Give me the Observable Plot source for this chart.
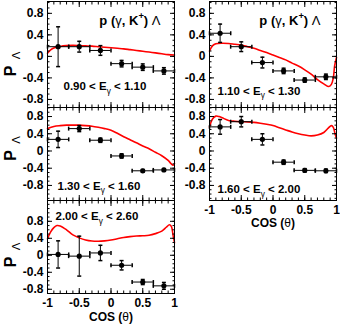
<!DOCTYPE html>
<html><head><meta charset="utf-8">
<script src="https://cdn.jsdelivr.net/npm/d3@7"></script>
<script src="https://cdn.jsdelivr.net/npm/@observablehq/plot@0.6"></script>
<style>
html,body{margin:0;padding:0;background:#fff;}
#chart{position:relative;width:340px;height:325px;overflow:hidden;background:#fff;}
#chart svg{position:absolute;left:0;top:0;}
</style></head><body><div id="chart"></div>
<script>
// ---- data ----
const cosTheta     = [-0.833, -0.5, -0.167, 0.167, 0.5, 0.833];
const cosHalfWidth = [0.167, 0.167, 0.167, 0.167, 0.167, 0.167];
const energyLabels = ["0.90 < E_{γ} < 1.10", "1.10 < E_{γ} < 1.30", "1.30 < E_{γ} < 1.60", "1.60 < E_{γ} < 2.00", "2.00 < E_{γ} < 2.60"];
const reactionLabel = "p (γ, K^{+}) Λ";
const yAxisLabel = "P_{  Λ}";
const xAxisLabel = "COS (θ)";
const xTicks = [-1, -0.5, 0, 0.5, 1];
const yTicks = [-0.8, -0.4, 0, 0.4, 0.8];

const polE1 = [0.18, 0.18, 0.11, -0.135, -0.20, -0.27];
const errE1 = [0.37, 0.10, 0.09, 0.06, 0.06, 0.06];
const polE2 = [0.43, 0.18, -0.115, -0.27, -0.44, -0.38];
const errE2 = [0.17, 0.09, 0.10, 0.05, 0.04, 0.05];
const polE3 = [0.27, 0.52, 0.25, -0.115, -0.46, -0.44];
const errE3 = [0.19, 0.07, 0.05, 0.05, 0.03, 0.03];
const polE4 = [0.56, 0.68, 0.27, -0.26, -0.45, -0.46];
const errE4 = [0.17, 0.12, 0.13, 0.05, 0.04, 0.04];
const polE5 = [0.02, -0.02, 0.055, -0.235, -0.63, -0.72];
const errE5 = [0.32, 0.47, 0.18, 0.11, 0.06, 0.08];

const modelE1X = [-1, -0.95, -0.9, -0.8, -0.7, -0.6, -0.5, -0.4, -0.3, -0.2, -0.1, 0, 0.1, 0.2, 0.3, 0.4, 0.5, 0.6, 0.7, 0.8, 0.9, 1.0];
const modelE1Y = [0.06, 0.12, 0.155, 0.185, 0.2, 0.205, 0.2, 0.195, 0.19, 0.18, 0.17, 0.16, 0.15, 0.14, 0.125, 0.11, 0.095, 0.08, 0.065, 0.048, 0.033, 0.025];
const modelE2X = [-1, -0.95, -0.9, -0.8, -0.7, -0.6, -0.5, -0.4, -0.3, -0.2, -0.1, 0, 0.1, 0.2, 0.3, 0.4, 0.5, 0.6, 0.7, 0.8, 0.88, 0.92, 0.95, 0.97, 1.0];
const modelE2Y = [0.1, 0.2, 0.235, 0.245, 0.24, 0.225, 0.21, 0.18, 0.15, 0.11, 0.07, 0.025, -0.02, -0.065, -0.125, -0.18, -0.25, -0.33, -0.43, -0.51, -0.56, -0.52, -0.4, -0.18, -0.02];
const modelE3X = [-1, -0.9, -0.8, -0.7, -0.6, -0.5, -0.4, -0.3, -0.2, -0.1, 0, 0.1, 0.2, 0.3, 0.4, 0.5, 0.6, 0.7, 0.8, 0.9, 0.95, 0.98, 1.0];
const modelE3Y = [0.52, 0.57, 0.59, 0.6, 0.6, 0.6, 0.59, 0.575, 0.55, 0.52, 0.48, 0.41, 0.33, 0.26, 0.19, 0.115, 0.05, -0.03, -0.11, -0.22, -0.3, -0.33, -0.29];
const modelE4X = [-1, -0.95, -0.9, -0.85, -0.8, -0.7, -0.6, -0.5, -0.4, -0.3, -0.2, -0.1, 0, 0.1, 0.2, 0.3, 0.4, 0.5, 0.6, 0.7, 0.8, 0.87, 0.92, 0.95, 0.98, 1.0];
const modelE4Y = [0.56, 0.75, 0.81, 0.8, 0.77, 0.71, 0.69, 0.68, 0.675, 0.665, 0.645, 0.62, 0.59, 0.54, 0.49, 0.44, 0.4, 0.37, 0.35, 0.37, 0.43, 0.53, 0.59, 0.55, 0.38, 0.3];
const modelE5X = [-1, -0.95, -0.9, -0.85, -0.8, -0.7, -0.6, -0.5, -0.4, -0.3, -0.2, -0.1, 0, 0.1, 0.2, 0.3, 0.4, 0.5, 0.6, 0.7, 0.8, 0.87, 0.92, 0.95, 0.98, 1.0];
const modelE5Y = [0.39, 0.55, 0.65, 0.7, 0.69, 0.6, 0.48, 0.41, 0.36, 0.335, 0.33, 0.34, 0.36, 0.39, 0.42, 0.44, 0.455, 0.46, 0.47, 0.51, 0.57, 0.66, 0.72, 0.68, 0.45, 0.3];

// ---- layout ----
const W = 340, H = 325;
const panels = [
  {lbl: energyLabels[0], pol: polE1, err: errE1, mx: modelE1X, my: modelE1Y, box: [47, 174, 1, 107], ydom: [-0.95, 1.02], title: true, tdx: -14, xlab: false, ylab: -0.14, ea: "bottom-left", edx: 16, edy: -21},
  {lbl: energyLabels[1], pol: polE2, err: errE2, mx: modelE2X, my: modelE2Y, box: [209, 336, 1, 107], ydom: [-0.95, 1.02], title: true, tdx: -16, xlab: false, ylab: null, ea: "bottom-left", edx: 8, edy: -16.5},
  {lbl: energyLabels[2], pol: polE3, err: errE3, mx: modelE3X, my: modelE3Y, box: [47, 174, 107, 200], ydom: [-1.15, 1.01], title: false, xlab: false, ylab: 0.06, ea: "bottom-left", edx: 10, edy: -14.5},
  {lbl: energyLabels[3], pol: polE4, err: errE4, mx: modelE4X, my: modelE4Y, box: [209, 336, 107, 200], ydom: [-1.15, 1.01], title: false, xlab: true, xdy: 23, ylab: null, ea: "bottom-left", edx: 8, edy: -11},
  {lbl: energyLabels[4], pol: polE5, err: errE5, mx: modelE5X, my: modelE5Y, box: [47, 174, 200, 293], ydom: [-0.9, 1.29], title: false, xlab: true, xdy: 24, ylab: 0.01, ea: "top-left", edx: 8, edy: 16}
];

const capH = {draw(ctx) { ctx.moveTo(-2, 0); ctx.lineTo(2, 0); }};
const capV = {draw(ctx) { ctx.moveTo(0, -2); ctx.lineTo(0, 2); }};
const fmt = d => String(d);
const xMinor = d3.range(-10, 11).map(i => i / 10);

function makePanel(p) {
  const [l, r, t, b] = p.box;
  const pts = cosTheta.map((x, i) => ({x, y: p.pol[i], e: p.err[i], h: cosHalfWidth[i]}));
  const curve = p.mx.map((x, i) => ({x, y: p.my[i]}));
  const yMinor = d3.range(-13, 14).map(i => i / 10).filter(v => v >= p.ydom[0] && v <= p.ydom[1]);
  const marks = [
    Plot.line(curve, {x: "x", y: "y", stroke: "#ff0000", strokeWidth: 1.6, curve: "catmull-rom"}),
    Plot.ruleX(pts, {x: "x", y1: d => d.y - d.e, y2: d => d.y + d.e, stroke: "black", strokeWidth: 1}),
    Plot.ruleY(pts, {y: "y", x1: d => d.x - d.h, x2: d => d.x + d.h, stroke: "black", strokeWidth: 1}),
    Plot.dot(pts, {x: "x", y: d => d.y + d.e, symbol: capH, stroke: "black", fill: "none", r: 2}),
    Plot.dot(pts, {x: "x", y: d => d.y - d.e, symbol: capH, stroke: "black", fill: "none", r: 2}),
    Plot.dot(pts, {x: d => d.x - d.h, y: "y", symbol: capV, stroke: "black", fill: "none", r: 2}),
    Plot.dot(pts, {x: d => d.x + d.h, y: "y", symbol: capV, stroke: "black", fill: "none", r: 2}),
    Plot.dot(pts, {x: "x", y: "y", r: 2.6, fill: "black"}),
    Plot.frame({stroke: "black", strokeWidth: 1}),
    // inward ticks on all four sides
    Plot.axisX({ticks: xTicks, anchor: "bottom", tickSize: 5, dy: -5, fill: "none", label: null}),
    Plot.axisX({ticks: xMinor, anchor: "bottom", tickSize: 2.5, dy: -2.5, fill: "none", label: null}),
    Plot.axisX({ticks: xTicks, anchor: "top", tickSize: 5, dy: 5, fill: "none", label: null}),
    Plot.axisX({ticks: xMinor, anchor: "top", tickSize: 2.5, dy: 2.5, fill: "none", label: null}),
    Plot.axisY({ticks: yTicks, anchor: "left", tickSize: 5, dx: 5, fill: "none", label: null}),
    Plot.axisY({ticks: yMinor, anchor: "left", tickSize: 2.5, dx: 2.5, fill: "none", label: null}),
    Plot.axisY({ticks: yTicks, anchor: "right", tickSize: 5, dx: -5, fill: "none", label: null}),
    Plot.axisY({ticks: yMinor, anchor: "right", tickSize: 2.5, dx: -2.5, fill: "none", label: null}),
    // tick labels
    Plot.axisY({ticks: yTicks, anchor: "left", tickSize: 0, tickPadding: 4, tickFormat: fmt, label: null}),
    // energy bin label
    Plot.text([p.lbl], {text: d => d, frameAnchor: p.ea, textAnchor: "start", lineAnchor: "middle", dx: p.edx, dy: p.edy, fontSize: 11.5, fontWeight: "bold"})
  ];
  if (p.xlab) {
    marks.push(Plot.axisX({ticks: xTicks, anchor: "bottom", tickSize: 0, tickPadding: 5, tickFormat: fmt, label: null}));
    marks.push(Plot.text([xAxisLabel], {text: d => d, frameAnchor: "bottom", textAnchor: "middle", lineAnchor: "middle", dy: p.xdy, fontSize: 12, fontWeight: "bold"}));
  }
  if (p.title) {
    marks.push(Plot.text([reactionLabel], {text: d => d, frameAnchor: "top-right", textAnchor: "end", lineAnchor: "middle", dx: p.tdx, dy: 19, fontSize: 13, fontWeight: "bold"}));
  }
  if (p.ylab !== null) {
    marks.push(Plot.text([{t: yAxisLabel, y: p.ylab}], {text: "t", y: "y", frameAnchor: "left", rotate: -90, textAnchor: "middle", lineAnchor: "bottom", dx: -32, fontSize: 16, fontWeight: "bold"}));
  }
  return Plot.plot({
    width: W, height: H,
    marginLeft: l, marginRight: W - r, marginTop: t, marginBottom: H - b,
    x: {domain: [-1, 1], axis: null},
    y: {domain: p.ydom, axis: null},
    style: {background: "transparent", font: "bold 12px 'Liberation Sans', Arial, Helvetica, sans-serif", color: "black", overflow: "visible"},
    marks
  });
}

const GREEK = /([\u0370-\u03FF])/;
function richify(svg) {
  svg.querySelectorAll("text").forEach(t => {
    const s = t.textContent;
    if (!/[_^]\{/.test(s) && !GREEK.test(s)) return;
    const fs = parseFloat(getComputedStyle(t).fontSize) || 12;
    while (t.firstChild) t.removeChild(t.firstChild);
    let shift = 0;
    const add = (str, kind) => {
      str.split(GREEK).forEach(part => {
        if (!part) return;
        const ts = document.createElementNS("http://www.w3.org/2000/svg", "tspan");
        ts.textContent = part;
        if (GREEK.test(part)) ts.setAttribute("font-weight", "normal");
        const target = kind === "_" ? fs * 0.3 : kind === "^" ? -fs * 0.42 : 0;
        if (target !== shift) { ts.setAttribute("dy", target - shift); shift = target; }
        if (kind) ts.setAttribute("font-size", (fs * 0.72).toFixed(1));
        t.appendChild(ts);
      });
    };
    const re = /([_^])\{([^}]*)\}/g;
    let last = 0, m;
    while ((m = re.exec(s))) { add(s.slice(last, m.index), null); add(m[2], m[1]); last = re.lastIndex; }
    add(s.slice(last), null);
  });
}

const chart = document.getElementById("chart");
panels.forEach(p => {
  const svg = makePanel(p);
  chart.appendChild(svg);
  richify(svg);
});
</script></body></html>
